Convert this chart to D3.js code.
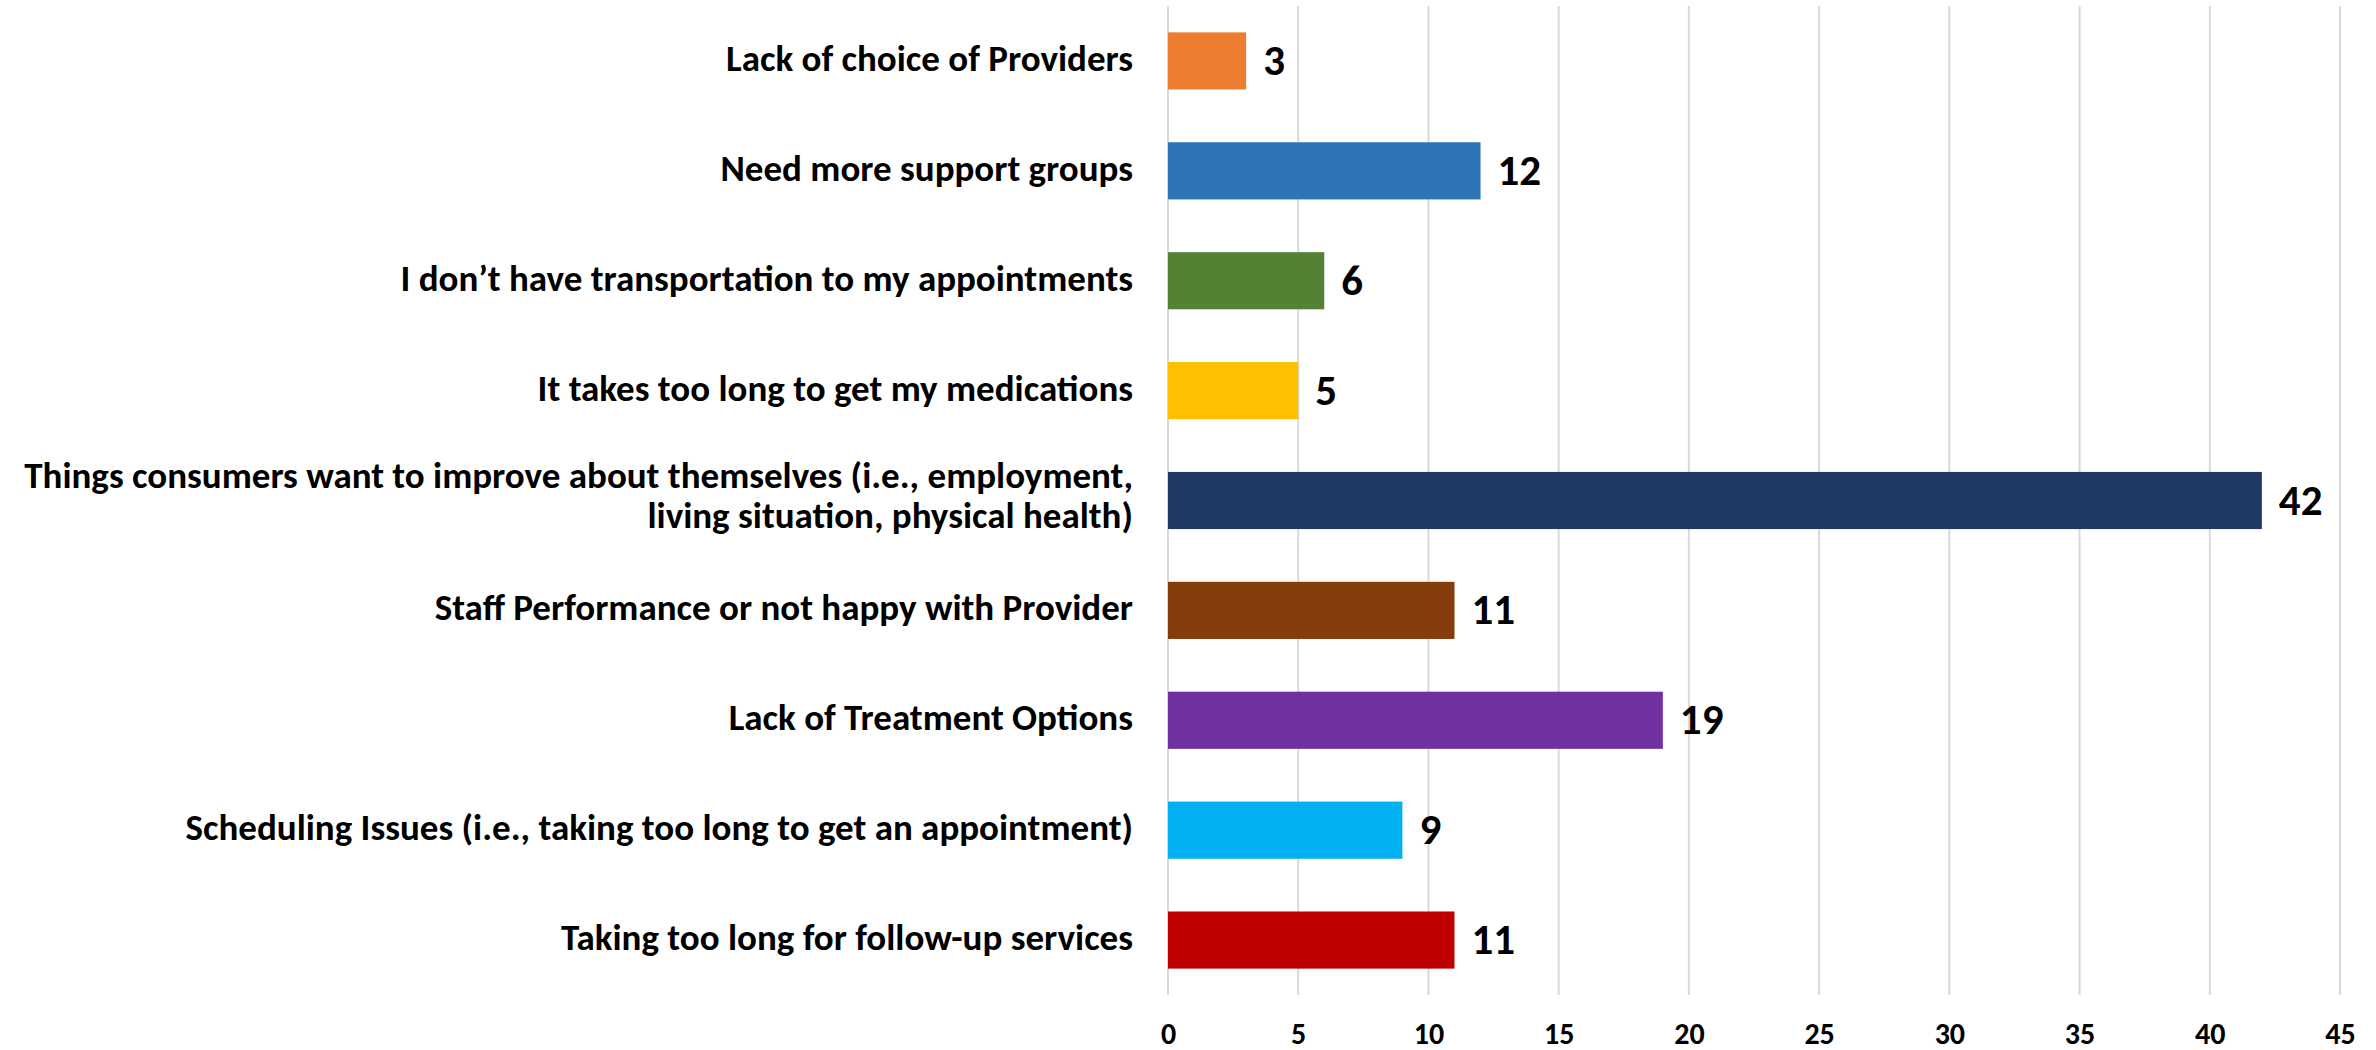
<!DOCTYPE html>
<html>
<head>
<meta charset="utf-8">
<script src="https://cdn.jsdelivr.net/npm/d3@7"></script>
<style>
  html, body { margin: 0; padding: 0; background: #fff; }
  svg { display: block; }
  text { font-family: Carlito, "Liberation Sans Narrow", "Open Sans", sans-serif; font-weight: bold; fill: #000; }
</style>
</head>
<body>
<svg id="chart" width="2376" height="1050"></svg>
<script>
// Survey responses: reasons consumers gave, top to bottom
const categories = [
  "Lack of choice of Providers",
  "Need more support groups",
  "I don\u2019t have transportation to my appointments",
  "It takes too long to get my medications",
  "Things consumers want to improve about themselves (i.e., employment,|living situation, physical health)",
  "Staff Performance or not happy with Provider",
  "Lack of Treatment Options",
  "Scheduling Issues (i.e., taking too long to get an appointment)",
  "Taking too long for follow-up services"
];
const values = [3, 12, 6, 5, 42, 11, 19, 9, 11];
const colors = ["#ED7D31", "#2E75B6", "#548235", "#FFC000", "#203864", "#843C0C", "#7030A0", "#00B0F0", "#C00000"];
const tickValues = [0, 5, 10, 15, 20, 25, 30, 35, 40, 45];

const svg = d3.select("#chart");
const plot = { left: 1168, right: 2340, top: 6, bottom: 995 };

const x = d3.scaleLinear().domain([0, 45]).range([plot.left, plot.right]);
const y = d3.scaleBand().domain(categories).range([plot.top, plot.bottom]).paddingInner(0.48).paddingOuter(0.24);

// vertical gridlines
svg.append("g")
  .selectAll("line")
  .data(tickValues)
  .join("line")
  .attr("x1", d => x(d)).attr("x2", d => x(d))
  .attr("y1", plot.top).attr("y2", plot.bottom)
  .attr("stroke", "#d9d9d9")
  .attr("stroke-width", 2);

// x axis tick labels
const xAxis = d3.axisBottom(x).tickValues(tickValues).tickSize(0).tickPadding(0);
const gx = svg.append("g").attr("transform", `translate(0, ${plot.bottom})`).call(xAxis);
gx.select(".domain").remove();
gx.selectAll("text")
  .attr("font-family", null)
  .style("font-size", "30px")
  .attr("y", 49)
  .attr("dy", null);

// bars
svg.append("g")
  .selectAll("rect")
  .data(values)
  .join("rect")
  .attr("x", x(0))
  .attr("y", (d, i) => y(categories[i]))
  .attr("width", d => x(d) - x(0))
  .attr("height", y.bandwidth())
  .attr("fill", (d, i) => colors[i]);

// value labels
svg.append("g")
  .selectAll("text")
  .data(values)
  .join("text")
  .attr("x", d => x(d) + 17)
  .attr("y", (d, i) => y(categories[i]) + y.bandwidth() / 2 + 14)
  .style("font-size", "43px")
  .text(d => d);

// category labels, right-aligned next to the axis
const labels = svg.append("g")
  .selectAll("text")
  .data(categories)
  .join("text")
  .attr("text-anchor", "end")
  .style("font-size", "37px")
  .attr("transform", d => `translate(${plot.left - 35}, ${y(d) + y.bandwidth() / 2})`);

labels.each(function(d) {
  const lines = d.split("|");
  const lh = 40;
  const base = lines.length > 1 ? 7 : 10;
  const t = d3.select(this);
  lines.forEach((ln, k) => {
    t.append("tspan")
      .attr("x", 0)
      .attr("y", (k - (lines.length - 1) / 2) * lh + base)
      .text(ln);
  });
});
</script>
</body>
</html>
